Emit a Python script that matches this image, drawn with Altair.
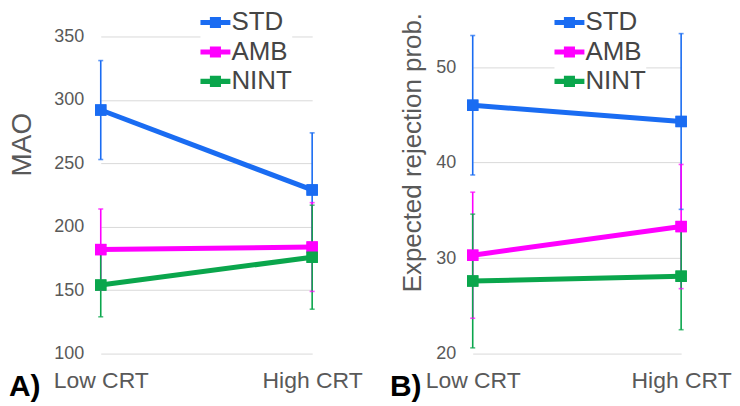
import altair as alt
import pandas as pd

FONT = "Liberation Sans"

groups = ["Low CRT", "High CRT"]
series = ["STD", "AMB", "NINT"]
colors = ["#1a6cf2", "#ff00ff", "#0aa64c"]

# Panel A: MAO (mean, error half-width) per series, Low/High CRT
mao_std = [292, 229]
mao_std_err = [39, 45]
mao_amb = [182, 184]
mao_amb_err = [32, 35]
mao_nint = [154, 176]
mao_nint_err = [25, 41]
mao_ticks = [100, 150, 200, 250, 300, 350]

# Panel B: Expected rejection prob.
rej_std = [46.0, 44.3]
rej_std_err = [7.3, 9.2]
rej_amb = [30.3, 33.3]
rej_amb_err = [6.6, 6.5]
rej_nint = [27.6, 28.1]
rej_nint_err = [7.0, 5.6]
rej_ticks = [20, 30, 40, 50]

SYMBOL = ("M-1,-0.17L1,-0.17L1,0.17L-1,0.17Z "
          "M-0.37,-0.37L0.37,-0.37L0.37,0.37L-0.37,0.37Z")


def frame(vals, errs):
    rows = []
    for s, v, e in zip(series, vals, errs):
        for g, vv, ee in zip(groups, v, e):
            rows.append(dict(group=g, series=s, value=vv, lo=vv - ee, hi=vv + ee))
    return pd.DataFrame(rows)


def panel(df, title, ticks, domain, width, title_x, title_y, title_size,
          legend_x, legend_y, letter, letter_x):
    cscale = alt.Scale(domain=series, range=colors)
    yscale = alt.Scale(domain=domain, nice=False, zero=False)
    x = alt.X("group:N", sort=groups, scale=alt.Scale(type="point", padding=0),
              axis=alt.Axis(title=None, labelAngle=0, labelFontSize=23,
                            labelColor="#595959", labelFont=FONT, labelPadding=16,
                            domain=False, ticks=False, grid=False))
    yaxis = alt.Axis(values=ticks, title=title, labelFontSize=18, labelFont=FONT,
                     labelColor="#595959", labelPadding=17, domain=False,
                     ticks=False, grid=True, gridColor="#d9d9d9",
                     titleFontSize=title_size, titleFont=FONT, titleColor="#595959",
                     titleFontWeight="normal", titleAngle=270, titleAlign="center",
                     titleBaseline="alphabetic", titleX=title_x, titleY=title_y)
    legend = alt.Legend(title=None, orient="none",
                        legendX=legend_x, legendY=legend_y,
                        direction="vertical", labelFontSize=26,
                        labelFont=FONT, labelColor="#454545",
                        symbolType=SYMBOL, symbolSize=900,
                        symbolStrokeWidth=0, rowPadding=1.5,
                        labelOffset=1, fillColor="white", padding=0)
    color = alt.Color("series:N", scale=cscale, sort=series, legend=legend)

    def yenc(field):
        return alt.Y(field, scale=yscale, axis=yaxis)

    base = alt.Chart(df)
    pts = base.mark_point(shape="square", filled=True, size=130, opacity=1).encode(
        x=x, y=yenc("value:Q"), color=color)
    bars = base.mark_rule(strokeWidth=1.6).encode(
        x=x, y=yenc("lo:Q"), y2="hi:Q", color=color)
    caps_lo = base.mark_tick(thickness=1.6, size=5).encode(
        x=x, y=yenc("lo:Q"), color=color)
    caps_hi = base.mark_tick(thickness=1.6, size=5).encode(
        x=x, y=yenc("hi:Q"), color=color)
    lines = base.mark_line(strokeWidth=5).encode(
        x=x, y=yenc("value:Q"), color=color)
    lab = alt.Chart(pd.DataFrame({"t": [letter]})).mark_text(
        align="left", baseline="alphabetic", fontSize=30, fontWeight="bold",
        font=FONT, color="black").encode(
        text="t:N", x=alt.value(letter_x), y=alt.value(361))
    return alt.layer(pts, bars, caps_lo, caps_hi, lines, pts, lab).properties(
        width=width, height=318)


left = panel(
    frame([mao_std, mao_amb, mao_nint], [mao_std_err, mao_amb_err, mao_nint_err]),
    "MAO", mao_ticks, [100, 350], 212, -70, 108, 28, 100, -29, "A)", -92)
right = panel(
    frame([rej_std, rej_amb, rej_nint], [rej_std_err, rej_amb_err, rej_nint_err]),
    "Expected rejection prob.", rej_ticks, [20, 53.2], 209, -52.7, 116, 26,
    82, -29, "B)", -83)

chart = alt.hconcat(left, right, spacing=161, bounds="flush").resolve_scale(
    color="independent", y="independent").resolve_legend(color="independent").properties(
    padding={"left": 1, "top": -1, "right": 0, "bottom": 0}
).configure_view(stroke=None)

chart.save("out.html", embed_options={"renderer": "svg", "actions": False})
